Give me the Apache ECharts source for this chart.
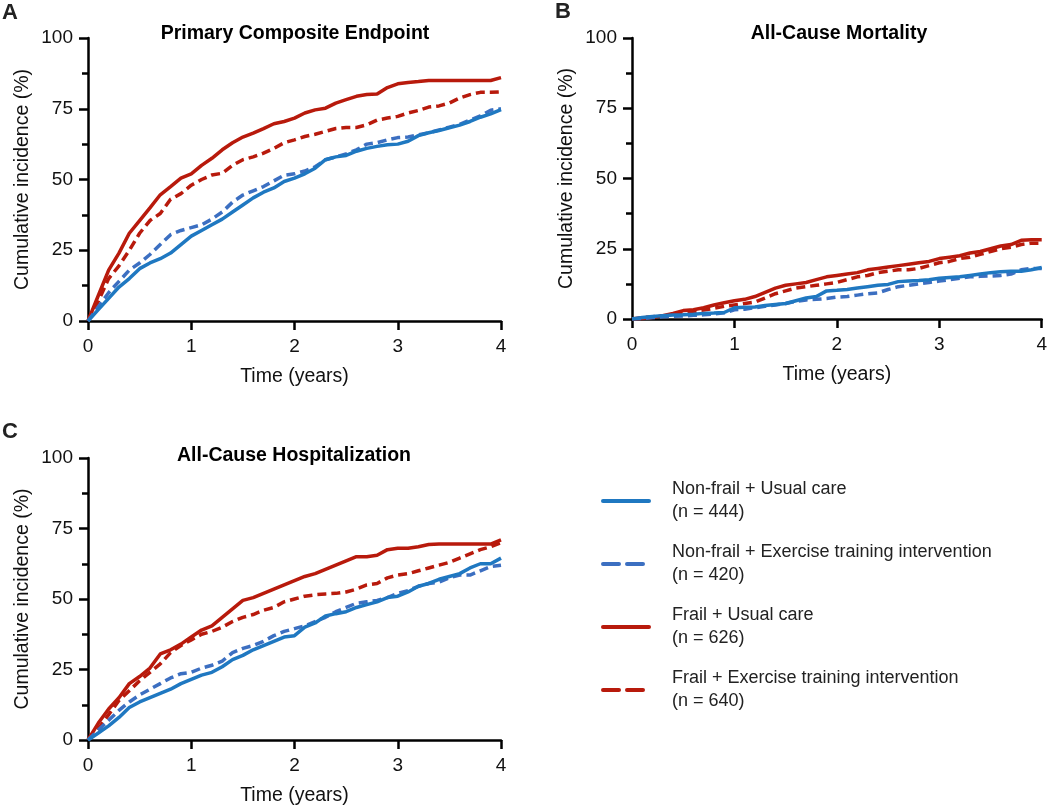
<!DOCTYPE html>
<html>
<head>
<meta charset="utf-8">
<script src="https://cdn.jsdelivr.net/npm/echarts@6/dist/echarts.min.js"></script>
<style>
  html, body { margin: 0; padding: 0; background: #fff; }
  #main { width: 1050px; height: 807px; }
</style>
</head>
<body>
<div id="main"></div>
<script>
// time axis (years)
const years = [0, 0.1, 0.2, 0.3, 0.4, 0.5, 0.6, 0.7, 0.8, 0.9, 1.0, 1.1, 1.2, 1.3, 1.4, 1.5, 1.6, 1.7, 1.8, 1.9, 2.0,
  2.1, 2.2, 2.3, 2.4, 2.5, 2.6, 2.7, 2.8, 2.9, 3.0, 3.1, 3.2, 3.3, 3.4, 3.5, 3.6, 3.7, 3.8, 3.9, 4.0]
const yTicks = [0, 25, 50, 75, 100]

const groupNames = ['Non-frail + Usual care', 'Non-frail + Exercise training intervention', 'Frail + Usual care', 'Frail + Exercise training intervention']
const groupN = [444, 420, 626, 640]
const panelTitles = ['Primary Composite Endpoint', 'All-Cause Mortality', 'All-Cause Hospitalization']
const panelLetters = ['A', 'B', 'C']

// A: primary composite endpoint
const compNonUsual = [0, 4, 8, 12, 15, 18.5, 20.5, 22, 24, 27, 30, 32, 34, 36, 38.5, 41, 43.5, 45.5, 47, 49.3, 50.5,
  52, 54, 57, 58, 58.5, 60, 61, 61.7, 62.3, 62.5, 63.5, 65.5, 66.5, 67.3, 68.3, 69.2, 70.5, 72, 73.2, 74.7]
const compNonEx = [0, 5, 10, 14, 18, 20.5, 23.5, 27, 30.5, 32, 33, 34, 36, 38.5, 42, 44.5, 46, 47.5, 49.5, 51.5, 52,
  53, 54.5, 57, 58, 59, 60.5, 62.5, 63, 64, 64.8, 65, 65.8, 66.5, 67.5, 68.5, 69.5, 71, 72.5, 74.5, 75]
const compFrailUsual = [0, 9, 18, 24, 31, 35.5, 40, 44.6, 47.5, 50.5, 52, 55, 57.5, 60.5, 63, 65, 66.4, 68, 69.7, 70.5, 71.7,
  73.5, 74.6, 75.2, 77, 78.2, 79.4, 80, 80.2, 82.5, 83.8, 84.3, 84.6, 85, 85, 85, 85, 85, 85, 85, 86]
const compFrailEx = [0, 7, 15, 19.5, 25, 31, 35.5, 38, 43, 45, 48, 50, 51.6, 52.2, 55, 57, 58, 59.3, 61, 63, 64,
  65.2, 66, 67, 68, 68.4, 68.4, 69.3, 71, 71.7, 72.3, 73.5, 74.4, 75.6, 76, 77, 78.8, 80, 80.8, 80.8, 81]

// B: all-cause mortality
const mortNonUsual = [0, 0.5, 0.9, 1.2, 1.4, 1.5, 1.7, 2, 2.1, 2.3, 4, 4.2, 4.3, 4.8, 5.2, 5.5, 6.5, 7.5, 8, 10, 10.2,
  10.5, 11, 11.5, 12, 12.3, 13.3, 13.5, 13.7, 14, 14.5, 14.8, 15, 15.5, 16, 16.5, 16.8, 17, 17, 17.5, 18.3]
const mortNonEx = [0, 0.2, 0.5, 0.8, 1, 1.1, 1.3, 1.5, 1.8, 2.2, 3.3, 3.5, 4, 4.5, 5, 5.5, 6.3, 6.8, 7, 7.3, 7.8,
  8, 8.5, 9, 9.3, 10.5, 11.5, 12, 12.5, 13, 13.5, 14, 14.5, 15, 15.2, 15.3, 15.5, 16, 17.5, 18, 18]
const mortFrailUsual = [0, 0.2, 0.5, 1.2, 2, 3, 3.3, 4, 5, 5.8, 6.5, 7, 8, 9.5, 11, 12, 12.5, 13, 14, 15, 15.5,
  16, 16.5, 17.5, 18, 18.5, 19, 19.5, 20, 20.5, 21.5, 22, 22.5, 23.5, 24, 25, 26, 26.5, 28, 28.2, 28.2]
const mortFrailEx = [0, 0.5, 0.8, 1, 1.5, 2, 2.6, 3.2, 3.8, 4.5, 5, 5.5, 6, 7.5, 9, 10, 11, 11.5, 12, 12.5, 13,
  14, 15, 15.5, 16.5, 17, 17.5, 17.5, 18, 19, 20, 20.5, 21.5, 22, 23, 24, 25, 25.5, 26.5, 27, 27]

// C: all-cause hospitalization
const hospNonUsual = [0, 2.5, 5, 8, 11.5, 13.5, 15, 16.5, 18, 20, 21.5, 23, 24, 26, 28.5, 30, 32, 33.5, 35, 36.5, 37,
  40, 41.5, 44, 44.8, 45.5, 47, 48, 49, 50.5, 51, 52.5, 54.5, 55.5, 57, 58, 59, 61, 62.5, 62.5, 64.5]
const hospNonEx = [0, 3.5, 7, 10.5, 13.5, 16, 18, 20, 22, 23.5, 24, 25.5, 26.5, 28, 31, 32.5, 33.5, 35, 37, 38.5, 39.5,
  40.5, 42, 43.5, 45.5, 47, 48.5, 49, 49.5, 50.5, 52, 53, 54.5, 55.5, 56, 57.5, 58.5, 58.5, 60, 61.5, 62]
const hospFrailUsual = [0, 6, 11, 15, 20, 22.5, 25.5, 30.5, 32, 34, 36.5, 39, 40.5, 43.5, 46.5, 49.5, 50.5, 52, 53.5, 55, 56.5,
  58, 59, 60.5, 62, 63.5, 65, 65, 65.5, 67.5, 68, 68, 68.5, 69.3, 69.5, 69.5, 69.5, 69.5, 69.5, 69.5, 71]
const hospFrailEx = [0, 4, 9, 14, 17.5, 21, 24, 27, 31, 33.5, 35.5, 37.5, 38.5, 40, 42, 43.5, 44.5, 46, 47, 49, 50,
  51, 51.5, 51.8, 52, 52.5, 53.5, 55, 55.5, 57.5, 58.5, 59, 60, 61, 62, 63, 64.5, 66, 67.5, 68.5, 70]

const panels = [
  [compNonUsual, compNonEx, compFrailUsual, compFrailEx],
  [mortNonUsual, mortNonEx, mortFrailUsual, mortFrailEx],
  [hospNonUsual, hospNonEx, hospFrailUsual, hospFrailEx]
]

const colors = ['#1f78c1', '#3c6fc1', '#b81a0c', '#b81a0c']
const dashed = [false, true, false, true]
const font = 'Liberation Sans, Arial, Helvetica, sans-serif'

const chart = echarts.init(document.getElementById('main'), null, { renderer: 'canvas' })

const grids = [
  { left: 88, top: 38, width: 413, height: 283 },
  { left: 632, top: 38, width: 413, height: 281 },
  { left: 88, top: 458, width: 413, height: 282 }
]

const xAxes = []
const yAxes = []
const series = []
grids.forEach((g, i) => {
  xAxes.push({
    gridIndex: i,
    type: 'value',
    min: 0,
    max: 4,
    interval: 1,
    name: 'Time (years)',
    nameLocation: 'middle',
    nameGap: 46,
    nameTextStyle: { fontFamily: font, fontSize: 19.5, color: '#111' },
    axisLine: { lineStyle: { color: '#000', width: 2.5 } },
    axisTick: { length: 9, lineStyle: { color: '#000', width: 2.5 } },
    axisLabel: { fontFamily: font, fontSize: 19, color: '#111', margin: 16 },
    splitLine: { show: false }
  })
  yAxes.push({
    gridIndex: i,
    type: 'value',
    min: yTicks[0],
    max: yTicks[yTicks.length - 1],
    interval: 25,
    name: 'Cumulative incidence (%)',
    nameLocation: 'middle',
    nameGap: 55,
    nameTextStyle: { fontFamily: font, fontSize: 19.5, color: '#111' },
    axisLine: { show: true, lineStyle: { color: '#000', width: 2.5 } },
    axisTick: { show: true, length: 9, lineStyle: { color: '#000', width: 2.5 } },
    minorTick: { show: true, splitNumber: 2, length: 6, lineStyle: { color: '#000', width: 2.5 } },
    axisLabel: { fontFamily: font, fontSize: 19, color: '#111', margin: 15 },
    splitLine: { show: false }
  })
  panels[i].forEach((vals, k) => {
    series.push({
      name: groupNames[k],
      type: 'line',
      xAxisIndex: i,
      yAxisIndex: i,
      symbol: 'none',
      z: 10 - k,
      data: years.map((t, j) => [t, vals[j]]),
      lineStyle: {
        color: colors[k],
        width: 3.5,
        type: dashed[k] ? [9, 5] : 'solid'
      },
      itemStyle: { color: colors[k] }
    })
  })
})

const titles = []
const titleCenters = [[295, 24], [839, 24], [294, 446]]
panelTitles.forEach((t, i) => {
  titles.push({
    text: t,
    left: titleCenters[i][0],
    top: titleCenters[i][1],
    padding: 0,
    textAlign: 'center',
    textStyle: { fontFamily: font, fontSize: 19.5, fontWeight: 'bold', color: '#000' }
  })
})
const letterPos = [[2, 2], [555, 1], [2, 421]]
panelLetters.forEach((t, i) => {
  titles.push({
    text: t,
    left: letterPos[i][0],
    top: letterPos[i][1],
    padding: 0,
    textStyle: { fontFamily: font, fontSize: 22, fontWeight: 'bold', color: '#222' }
  })
})

// legend: line only, no marker
const legendData = groupNames.map((n, k) => ({
  name: n,
  itemStyle: { opacity: 0, borderWidth: 0 },
  lineStyle: { width: 4, cap: 'round', type: dashed[k] ? [16, 8] : 'solid' }
}))

const option = {
  animation: false,
  title: titles,
  grid: grids,
  xAxis: xAxes,
  yAxis: yAxes,
  legend: {
    orient: 'vertical',
    left: 596,
    top: 473,
    itemWidth: 46,
    itemHeight: 14,
    itemGap: 17,
    data: legendData,
    itemStyle: { opacity: 0, borderWidth: 0 },
    lineStyle: { width: 4, cap: 'round' },
    formatter (name) {
      const k = groupNames.indexOf(name)
      return name + '\n(n = ' + groupN[k] + ')'
    },
    textStyle: { fontFamily: font, fontSize: 18, color: '#222', lineHeight: 23, padding: [0, 0, 0, 18] }
  },
  series: series
}

chart.setOption(option)
</script>
</body>
</html>
